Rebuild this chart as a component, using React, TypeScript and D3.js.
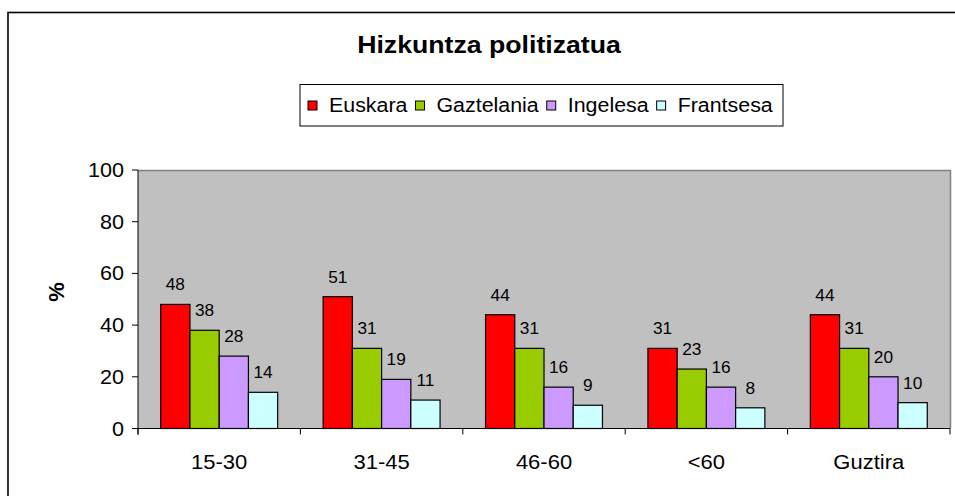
import React, { useEffect, useRef } from "react";
import * as d3 from "d3";

const categories = ["15-30", "31-45", "46-60", "<60", "Guztira"];
const seriesNames = ["Euskara", "Gaztelania", "Ingelesa", "Frantsesa"];
const euskara = [48, 51, 44, 31, 44];
const gaztelania = [38, 31, 31, 23, 31];
const ingelesa = [28, 19, 16, 16, 20];
const frantsesa = [14, 11, 9, 8, 10];
const yTicks = [0, 20, 40, 60, 80, 100];
const colors = ["#FF0000", "#99CC00", "#CC99FF", "#CCFFFF"];
const title = "Hizkuntza politizatua";
const yLabel = "%";

const W = 955;
const H = 496;
const FONT = "'Liberation Sans', Arial, sans-serif";

type Sel = d3.Selection<any, unknown, null, undefined>;

function addText(
  parent: Sel, x: number, y: number, txt: string | number,
  size: number, anchor: string, sx = 1.08, weight = "normal", rotate = 0
) {
  return parent.append("text")
    .attr("transform", `translate(${x},${y}) rotate(${rotate}) scale(${sx},1)`)
    .attr("text-anchor", anchor)
    .attr("font-family", FONT)
    .attr("font-size", size)
    .attr("font-weight", weight)
    .attr("fill", "#000")
    .text(txt);
}

export default function App() {
  const ref = useRef<SVGSVGElement>(null);

  useEffect(() => {
    const svg = d3.select(ref.current) as unknown as Sel;
    svg.selectAll("*").remove();
    const series = [euskara, gaztelania, ingelesa, frantsesa];

    // outer border
    svg.append("rect").attr("x", 8).attr("y", 12.5).attr("width", 1000).attr("height", 1000)
      .attr("fill", "white").attr("stroke", "#000").attr("stroke-width", 1.6);

    const left = 138, right = 950, top = 170, bottom = 428.5;
    const x0 = d3.scaleBand<string>().domain(categories).range([left, right]).paddingInner(0.28).paddingOuter(0.14);
    const x1 = d3.scaleBand<string>().domain(seriesNames).range([0, x0.bandwidth()]);
    const y = d3.scaleLinear().domain([0, 100]).range([bottom, top]);

    // plot area
    svg.append("rect").attr("x", left).attr("y", top).attr("width", right - left).attr("height", bottom - top)
      .attr("fill", "#C0C0C0");
    svg.append("path").attr("d", `M${left},${top + 0.5}H${right + 0.5}V${bottom}`)
      .attr("fill", "none").attr("stroke", "#808080").attr("stroke-width", 1.5);

    // bars
    const g = svg.append("g");
    categories.forEach((c, ci) => {
      series.forEach((vals, si) => {
        const bx = (x0(c) as number) + (x1(seriesNames[si]) as number);
        g.append("rect")
          .attr("x", bx).attr("y", y(vals[ci]))
          .attr("width", x1.bandwidth()).attr("height", y(0) - y(vals[ci]))
          .attr("fill", colors[si]).attr("stroke", "#000").attr("stroke-width", 1.2);
        addText(g, bx + x1.bandwidth() / 2, y(vals[ci]) - 14, vals[ci], 16, "middle", 1.08);
      });
    });

    // y axis
    svg.append("line").attr("x1", left).attr("x2", left).attr("y1", top).attr("y2", bottom + 6)
      .attr("stroke", "#000").attr("stroke-width", 1);
    yTicks.forEach((t) => {
      svg.append("line").attr("x1", left - 6).attr("x2", left).attr("y1", y(t)).attr("y2", y(t))
        .attr("stroke", "#000");
      addText(svg, left - 14, y(t) + 7, t, 20, "end", 1.08);
    });

    // x axis
    svg.append("line").attr("x1", left - 6).attr("x2", right).attr("y1", bottom).attr("y2", bottom)
      .attr("stroke", "#000").attr("stroke-width", 1);
    const step = x0.step();
    d3.range(categories.length + 1).forEach((i) => {
      const tx = left + i * step;
      svg.append("line").attr("x1", tx).attr("x2", tx).attr("y1", bottom).attr("y2", bottom + 6)
        .attr("stroke", "#000");
    });
    categories.forEach((c) => {
      addText(svg, (x0(c) as number) + x0.bandwidth() / 2, 469, c, 20, "middle", 1.1);
    });

    // y label
    addText(svg, 64, 292, yLabel, 22, "middle", 1, "bold", -90);

    // title
    addText(svg, 489, 53, title, 23, "middle", 1.16, "bold");

    // legend
    const lg = svg.append("g");
    lg.append("rect").attr("x", 300).attr("y", 84.5).attr("width", 483).attr("height", 41.5)
      .attr("fill", "white").attr("stroke", "#000").attr("stroke-width", 1);
    let cx = 308;
    seriesNames.forEach((n, i) => {
      lg.append("rect").attr("x", cx).attr("y", 101).attr("width", 9).attr("height", 9)
        .attr("fill", colors[i]).attr("stroke", "#000").attr("stroke-width", 1);
      const sx = 1.07;
      const t = addText(lg, cx + 21, 112, n, 20, "start", sx);
      const w = (t.node() as SVGTextElement).getComputedTextLength() * sx;
      cx = cx + 21 + w + 8;
    });
  }, []);

  return (
    <svg ref={ref} width={W} height={H} style={{ position: "absolute", left: 0, top: 0, background: "white" }} />
  );
}
